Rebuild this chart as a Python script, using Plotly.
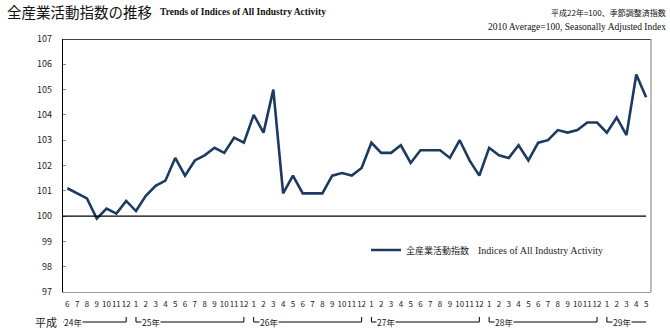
import plotly.graph_objects as go

# Monthly index values, Heisei 24 (2012) June through Heisei 29 (2017) May
month_labels = [
    "6", "7", "8", "9", "10", "11", "12",
    "1", "2", "3", "4", "5", "6", "7", "8", "9", "10", "11", "12",
    "1", "2", "3", "4", "5", "6", "7", "8", "9", "10", "11", "12",
    "1", "2", "3", "4", "5", "6", "7", "8", "9", "10", "11", "12",
    "1", "2", "3", "4", "5", "6", "7", "8", "9", "10", "11", "12",
    "1", "2", "3", "4", "5",
]
index_values = [
    101.1, 100.9, 100.7, 99.9, 100.3, 100.1, 100.6,
    100.2, 100.8, 101.2, 101.4, 102.3, 101.6, 102.2, 102.4, 102.7, 102.5, 103.1, 102.9,
    104.0, 103.3, 105.0, 100.9, 101.6, 100.9, 100.9, 100.9, 101.6, 101.7, 101.6, 101.9,
    102.9, 102.5, 102.5, 102.8, 102.1, 102.6, 102.6, 102.6, 102.3, 103.0, 102.2, 101.6,
    102.7, 102.4, 102.3, 102.8, 102.2, 102.9, 103.0, 103.4, 103.3, 103.4, 103.7, 103.7,
    103.3, 103.9, 103.2, 105.6, 104.7,
]
year_labels = ["24年", "25年", "26年", "27年", "28年", "29年"]
era_label = "平成"
y_ticks = [97, 98, 99, 100, 101, 102, 103, 104, 105, 106, 107]
base_value = 100

title_jp = "全産業活動指数の推移"
title_en = "Trends of Indices of All Industry Activity"
note_jp = "平成22年=100、季節調整済指数"
note_en = "2010 Average=100, Seasonally Adjusted Index"
series_jp = "全産業活動指数"
series_en = "Indices of All Industry Activity"

JP = "Noto Sans CJK JP"
SERIF = "Liberation Serif"
LINE = "#1d3a60"

W, H, L, R, T, B = 670, 336, 63, 19, 39, 44
plot_w, plot_h = W - L - R, H - T - B

def px_x(px):
    return (px - L) / plot_w

def px_y(py):
    return (H - B - py) / plot_h

x = list(range(len(index_values)))
x_min, x_max = -0.44, len(index_values) - 0.5

fig = go.Figure()
fig.add_trace(go.Scatter(
    x=x, y=index_values, mode="lines",
    line=dict(color=LINE, width=2.6),
    name=f"{series_jp}　<span style='font-family:{SERIF};font-size:10px'>{series_en}</span>",
    showlegend=True,
))

# baseline at 100
fig.add_shape(type="line", xref="x", yref="y", x0=x_min, x1=x[-1],
              y0=base_value, y1=base_value, line=dict(color="black", width=1.3))
# top border (black) and right border (gray)
fig.add_shape(type="line", xref="paper", yref="y", x0=0, x1=1,
              y0=y_ticks[-1], y1=y_ticks[-1], line=dict(color="black", width=1.3))
fig.add_shape(type="line", xref="paper", yref="y", x0=1, x1=1,
              y0=y_ticks[0], y1=y_ticks[-1], line=dict(color="#9a9a9a", width=1.3))

# year brackets below the month labels
starts = [0] + [i for i, m in enumerate(month_labels) if m == "1"]
ends = [s - 1 for s in starts[1:]] + [len(month_labels) - 1]
y_line = px_y(322)
y_tick_top = px_y(317)
for label, s, e in zip(year_labels, starts, ends):
    partial_start = month_labels[s] != "1"
    partial_end = month_labels[e] != "12"
    line_start = s - 0.44 if partial_start else s
    fig.add_shape(type="line", xref="x", yref="paper", x0=line_start, x1=e,
                  y0=y_line, y1=y_line, line=dict(color="black", width=1))
    if not partial_start:
        fig.add_shape(type="line", xref="x", yref="paper", x0=s, x1=s,
                      y0=y_line, y1=y_tick_top, line=dict(color="black", width=1))
    if not partial_end:
        fig.add_shape(type="line", xref="x", yref="paper", x0=e, x1=e,
                      y0=y_line, y1=y_tick_top, line=dict(color="black", width=1))
    fig.add_annotation(x=line_start if partial_start else s + 0.5, xref="x",
                       y=y_line, yref="paper", text=label, showarrow=False,
                       xanchor="left", yanchor="middle", bgcolor="white",
                       borderpad=0, font=dict(family=JP, size=8.5, color="#222"))

fig.add_annotation(x=px_x(33), xref="paper", y=y_line, yref="paper",
                   text=era_label, showarrow=False, xanchor="left", yanchor="middle",
                   font=dict(family=JP, size=11, color="#222"))

# titles and notes
fig.add_annotation(x=px_x(5), y=px_y(12), xref="paper", yref="paper", text=title_jp,
                   showarrow=False, xanchor="left", yanchor="middle",
                   font=dict(family=JP, size=14.5, color="#111"))
fig.add_annotation(x=px_x(158), y=px_y(12), xref="paper", yref="paper",
                   text=f"<b>{title_en}</b>", showarrow=False,
                   xanchor="left", yanchor="middle",
                   font=dict(family=SERIF, size=9.5, color="#111"))
fig.add_annotation(x=px_x(668), y=px_y(13), xref="paper", yref="paper", text=note_jp,
                   showarrow=False, xanchor="right", yanchor="middle",
                   font=dict(family=JP, size=8, color="#111"))
fig.add_annotation(x=px_x(668), y=px_y(27), xref="paper", yref="paper", text=note_en,
                   showarrow=False, xanchor="right", yanchor="middle",
                   font=dict(family=SERIF, size=9.5, color="#111"))

fig.update_layout(
    width=W, height=H,
    margin=dict(l=L, r=R, t=T, b=B),
    paper_bgcolor="white", plot_bgcolor="white",
    font=dict(family=JP, color="#222"),
    legend=dict(x=px_x(366), y=px_y(250),
                xanchor="left", yanchor="middle", bgcolor="rgba(0,0,0,0)",
                itemwidth=30,
                font=dict(family=JP, size=9, color="#222")),
    xaxis=dict(range=[x_min, x_max], tickmode="array", tickvals=x,
               ticktext=month_labels, showgrid=False, zeroline=False,
               showline=True, linecolor="#9a9a9a", linewidth=1.3,
               ticks="", tickfont=dict(family=JP, size=8, color="#222"),
               tickangle=0, ticklabelstandoff=4),
    yaxis=dict(range=[y_ticks[0], y_ticks[-1]], tickmode="array", tickvals=y_ticks,
               showgrid=False, zeroline=False, showline=True,
               linecolor="black", linewidth=1.3,
               ticks="inside", ticklen=3, tickcolor="#888",
               tickfont=dict(family=JP, size=9, color="#222"),
               ticklabelstandoff=8),
)

fig.write_html("out.html")
